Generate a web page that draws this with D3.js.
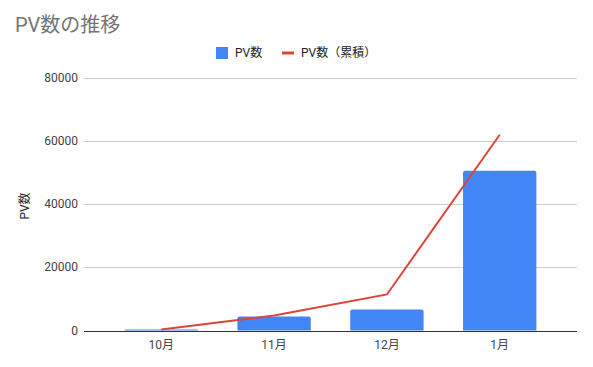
<!DOCTYPE html>
<html>
<head>
<meta charset="utf-8">
<script src="https://cdn.jsdelivr.net/npm/d3@7"></script>
<style>
  body { margin: 0; background: #fff; }
  text { font-family: Roboto, "Noto Sans CJK JP", sans-serif; }
</style>
</head>
<body>
<svg id="chart" width="593" height="367"></svg>
<script>
const months = ['10月', '11月', '12月', '1月'];
const pv = [320, 4450, 6650, 50600];
const pvTotal = [320, 4770, 11420, 62020];
const yTicks = [0, 20000, 40000, 60000, 80000];

const width = 593, height = 367;
const margin = { top: 78, right: 16, bottom: 36, left: 84 };

const svg = d3.select('#chart');

const x = d3.scaleBand()
	.domain(months)
	.range([margin.left, width - margin.right])
	.paddingInner(0.35)
	.paddingOuter(0.36);

const y = d3.scaleLinear()
	.domain([0, 80000])
	.range([height - margin.bottom - 0.5, margin.top]);

// title
svg.append('text')
	.attr('x', 15)
	.attr('y', 32)
	.attr('font-size', 20)
	.attr('fill', '#757575')
	.text('PV数の推移');

// gridlines
svg.append('g')
	.selectAll('line')
	.data(yTicks.filter(d => d > 0))
	.join('line')
	.attr('x1', margin.left)
	.attr('x2', width - margin.right)
	.attr('y1', d => Math.round(y(d)) + 0.5)
	.attr('y2', d => Math.round(y(d)) + 0.5)
	.attr('stroke', '#cccccc');

// y tick labels
svg.append('g')
	.selectAll('text')
	.data(yTicks)
	.join('text')
	.attr('x', margin.left - 6)
	.attr('y', d => y(d) + 4)
	.attr('text-anchor', 'end')
	.attr('font-size', 12)
	.attr('fill', '#444')
	.text(d => d);

// y axis title
svg.append('text')
	.attr('transform', `translate(${[29, 206]}) rotate(-90)`)
	.attr('text-anchor', 'middle')
	.attr('font-size', 12)
	.attr('fill', '#222')
	.text('PV数');

// bars
svg.append('g')
	.selectAll('path')
	.data(months)
	.join('path')
	.attr('d', (d, i) => {
		const x0 = x(d), w = x.bandwidth();
		const y0 = y(pv[i]), y1 = y(0);
		const r = Math.min(2, (y1 - y0) / 2);
		return `M${x0},${y1} V${y0 + r} Q${x0},${y0} ${x0 + r},${y0} H${x0 + w - r} Q${x0 + w},${y0} ${x0 + w},${y0 + r} V${y1} Z`;
	})
	.attr('fill', '#4285f4');

// baseline
svg.append('line')
	.attr('x1', margin.left)
	.attr('x2', width - margin.right)
	.attr('y1', Math.round(y(0)) + 0.5)
	.attr('y2', Math.round(y(0)) + 0.5)
	.attr('stroke', '#333');

// cumulative line
const line = d3.line()
	.x((d, i) => x(months[i]) + x.bandwidth() / 2)
	.y(d => y(d));

svg.append('path')
	.datum(pvTotal)
	.attr('d', line)
	.attr('fill', 'none')
	.attr('stroke', '#db4437')
	.attr('stroke-width', 2);

// x labels
svg.append('g')
	.selectAll('text')
	.data(months)
	.join('text')
	.attr('x', d => x(d) + x.bandwidth() / 2)
	.attr('y', y(0) + 18)
	.attr('text-anchor', 'middle')
	.attr('font-size', 12)
	.attr('fill', '#444')
	.text(d => d);

// legend
const legend = svg.append('g').attr('transform', 'translate(216,53)');
legend.append('rect')
	.attr('x', 0).attr('y', -6)
	.attr('width', 12).attr('height', 12)
	.attr('fill', '#4285f4');
legend.append('text')
	.attr('x', 19).attr('y', 4)
	.attr('font-size', 12).attr('fill', '#222')
	.text('PV数');
legend.append('line')
	.attr('x1', 66).attr('x2', 78)
	.attr('y1', 0).attr('y2', 0)
	.attr('stroke', '#db4437').attr('stroke-width', 3);
legend.append('text')
	.attr('x', 85).attr('y', 4)
	.attr('font-size', 12).attr('fill', '#222')
	.text('PV数（累積）');
</script>
</body>
</html>
